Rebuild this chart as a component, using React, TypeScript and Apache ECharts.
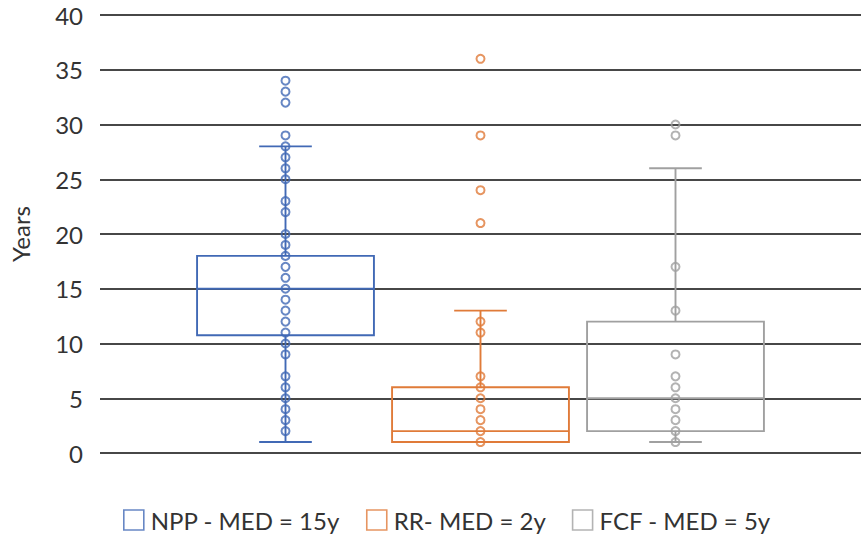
import React, { useEffect, useRef } from "react";
import * as echarts from "echarts";

const categories = ["NPP", "RR", "FCF"];
const legendNames = ["NPP - MED = 15y", "RR- MED = 2y", "FCF - MED = 5y"];
// [min, Q1, median, Q3, max]
const nppBox = [1, 10.75, 15, 18, 28];
const rrBox = [1, 1, 2, 6, 13];
const fcfBox = [1, 2, 5, 12, 26];
const nppPoints = [2, 3, 4, 5, 6, 7, 9, 10, 11, 12, 13, 14, 15, 16, 17, 18, 19, 20, 22, 23, 25, 26, 27, 28, 29, 32, 33, 34];
const rrPoints = [1, 2, 3, 4, 5, 6, 7, 11, 12, 21, 24, 29, 36];
const fcfPoints = [1, 2, 3, 4, 5, 6, 7, 9, 13, 17, 29, 30];
const yMin = 0;
const yMax = 40;
const yInterval = 5;

const colors = ["#4169B5", "#E07B39", "#A0A0A0"];
const FONT = "Lato";

export default function App() {
  const ref = useRef<HTMLDivElement>(null);
  useEffect(() => {
    if (!ref.current) return;
    const chart = echarts.init(ref.current, null, { renderer: "svg" });
    const boxes = [nppBox, rrBox, fcfBox];
    const points = [nppPoints, rrPoints, fcfPoints];
    const option: any = {
      animation: false,
      backgroundColor: "#ffffff",
      textStyle: { fontFamily: FONT },
      grid: [
        { left: 100, right: 0, top: 15, height: 438 },
        { left: 188, width: 585, top: 15, height: 438 },
      ],
      legend: {
        data: legendNames.map((n, i) => ({
          name: n,
          icon: "rect",
          itemStyle: { color: "rgba(0,0,0,0)", borderColor: colors[i], borderWidth: 1.6 },
        })),
        left: 118,
        top: 503,
        itemWidth: 20,
        itemHeight: 20,
        itemGap: 26,
        textStyle: { fontFamily: FONT, fontSize: 24, color: "#333333", padding: [0, 0, 0, 2] },
        selectedMode: false,
      },
      xAxis: [
        { type: "category", gridIndex: 0, data: categories, show: false },
        { type: "category", gridIndex: 1, data: categories, show: false },
      ],
      yAxis: [
        {
          type: "value",
          gridIndex: 0,
          min: yMin,
          max: yMax,
          interval: yInterval,
          name: "Years",
          nameLocation: "middle",
          nameGap: 68,
          nameTextStyle: { fontFamily: FONT, fontSize: 24, color: "#333333" },
          axisLine: { show: false },
          axisTick: { show: false },
          axisLabel: { fontFamily: FONT, fontSize: 24, color: "#333333", margin: 17 },
          splitLine: { lineStyle: { color: "#474747", width: 1.8 } },
        },
        {
          type: "value",
          gridIndex: 1,
          min: yMin,
          max: yMax,
          interval: yInterval,
          show: false,
          splitLine: { show: false },
        },
      ],
      series: [
        {
          type: "custom",
          name: "box",
          xAxisIndex: 1,
          yAxisIndex: 1,
          encode: { x: 0, y: [1, 2, 3, 4, 5] },
          data: boxes.map((b, i) => [i, ...b]),
          renderItem: (params: any, api: any) => {
            const idx = api.value(0);
            const x = api.coord([idx, api.value(1)])[0];
            const yLo = api.coord([idx, api.value(1)])[1];
            const yQ1 = api.coord([idx, api.value(2)])[1];
            const yMed = api.coord([idx, api.value(3)])[1];
            const yQ3 = api.coord([idx, api.value(4)])[1];
            const yHi = api.coord([idx, api.value(5)])[1];
            const band = api.size([1, 0])[0];
            const bw = band * 0.907;
            const cw = band * 0.27;
            const style = { stroke: colors[idx], lineWidth: 1.9, fill: "none" };
            return {
              type: "group",
              children: [
                { type: "rect", shape: { x: x - bw / 2, y: yQ3, width: bw, height: yQ1 - yQ3 }, style },
                { type: "line", shape: { x1: x - bw / 2, y1: yMed, x2: x + bw / 2, y2: yMed }, style },
                { type: "line", shape: { x1: x, y1: yQ3, x2: x, y2: yHi }, style },
                { type: "line", shape: { x1: x, y1: yQ1, x2: x, y2: yLo }, style },
                { type: "line", shape: { x1: x - cw / 2, y1: yHi, x2: x + cw / 2, y2: yHi }, style },
                { type: "line", shape: { x1: x - cw / 2, y1: yLo, x2: x + cw / 2, y2: yLo }, style },
              ],
            };
          },
          z: 2,
        },
        ...points.map((pts, i) => ({
          type: "scatter",
          name: legendNames[i],
          xAxisIndex: 1,
          yAxisIndex: 1,
          symbol: "circle",
          symbolSize: 8,
          itemStyle: { color: "rgba(255,255,255,0)", borderColor: colors[i], borderWidth: 2 },
          data: pts.map((v) => [categories[i], v]),
          z: 3,
        })),
      ],
    };
    chart.setOption(option);
    return () => chart.dispose();
  }, []);
  return (
    <div
      ref={ref}
      style={{ position: "fixed", left: 0, top: 0, width: 861, height: 535, background: "#fff" }}
    />
  );
}
